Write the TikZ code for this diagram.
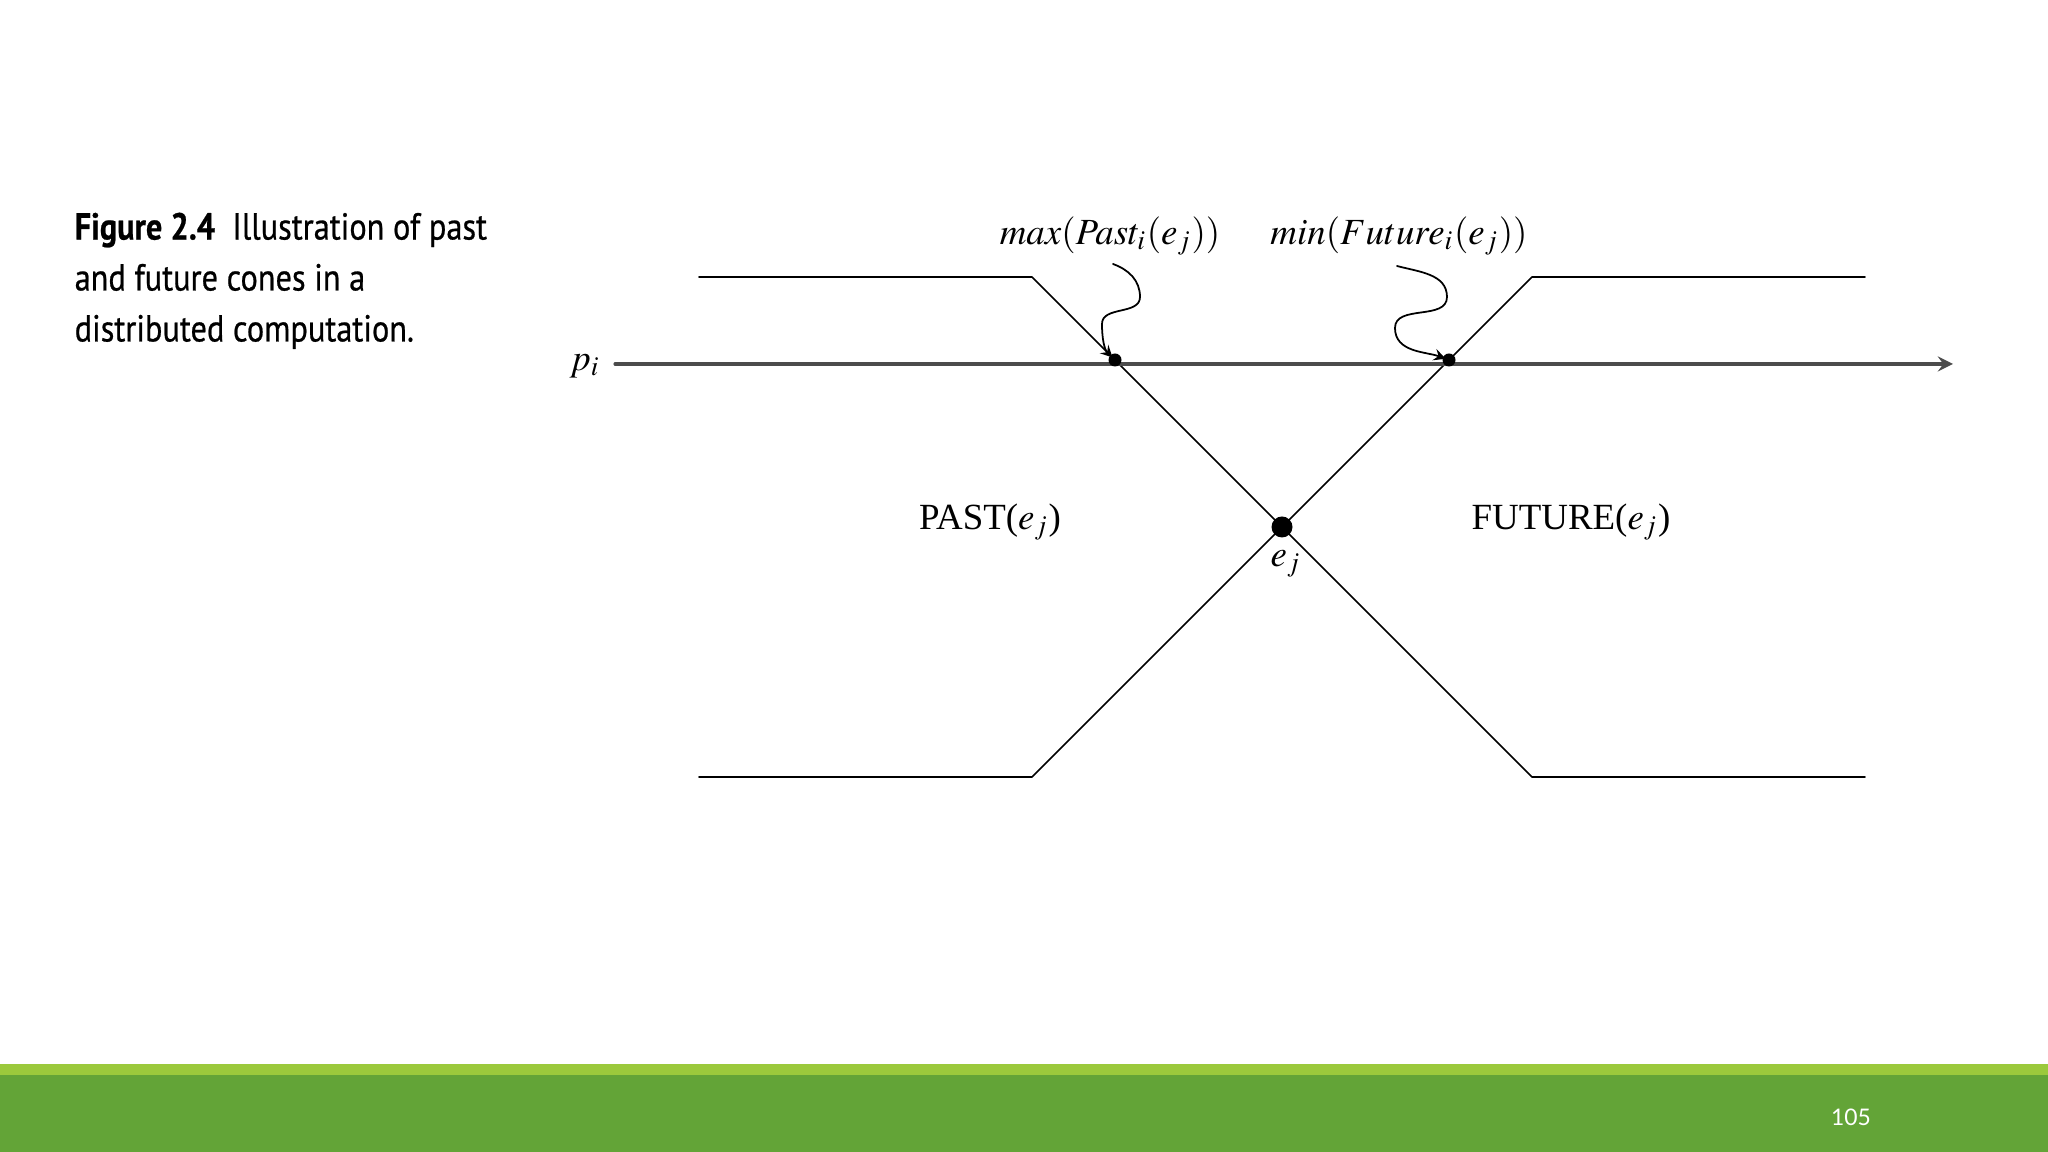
\documentclass[tikz,border=0pt]{standalone}
\usepackage{mathptmx}
\usepackage{fontspec}
\setmainfont{Liberation Serif}
\newfontfamily\capfont[FakeStretch=0.86,FakeBold=0.6]{PT Sans}
\newfontfamily\numfont{Lato}
\definecolor{barlight}{RGB}{155,201,60}
\definecolor{bardark}{RGB}{99,164,55}

\begin{document}
\begin{tikzpicture}[>=stealth, line join=round, line cap=round, font=\fontsize{10.5}{13}\selectfont]
	\def\ex{12.82} \def\ey{6.25} \def\cw{2.5} \def\ytop{8.75} \def\ybot{3.75}
	\def\xl{6.99} \def\xr{18.65} \def\yp{7.88}
	\useasboundingbox (0,0) rectangle (20.48,11.52);
	% footer bar
	\fill[bardark] (0,0) rectangle (20.48,0.77);
	\fill[barlight] (0,0.77) rectangle (20.48,0.88);
	\node[text=white, font=\numfont\fontsize{6.5}{8}\selectfont] (pagenum) at (18.51,0.35) {105};
	% caption
	\node[anchor=north west, inner sep=0pt, align=left, font=\capfont\fontsize{10.7}{14.5}\selectfont] (caption) at (0.74,9.40)
		{\textbf{Figure 2.4}\ \ Illustration of past\\and future cones in a\\distributed computation.};
	% cones
	\draw[line width=0.45pt] (\xl,\ytop) -- (\ex-\cw,\ytop) -- (\ex+\cw,\ybot) -- (\xr,\ybot);
	\draw[line width=0.45pt] (\xl,\ybot) -- (\ex-\cw,\ybot) -- (\ex+\cw,\ytop) -- (\xr,\ytop);
	% process line
	\draw[->, line width=0.9pt, black!70] (6.15,\yp) -- (19.53,\yp);
	\node (pi) at (5.85,7.86) {$p_i$};
	% events
	\coordinate (pastmax) at (11.15,7.92);
	\coordinate (futmin) at (14.49,7.92);
	\coordinate (ejdot) at (\ex,\ey);
	\fill (pastmax) circle (0.065);
	\fill (futmin) circle (0.065);
	\fill (ejdot) circle (0.105);
	\node (ej) at (12.86,5.88) {$e_j$};
	\node (past) at (9.90,6.30) {PAST($e_j$)};
	\node (future) at (15.71,6.30) {FUTURE($e_j$)};
	% labels and wiggly pointers
	\node (maxlbl) at (11.10,9.16) {$max(Past_i(e_j))$};
	\node (minlbl) at (13.99,9.16) {$min(Future_i(e_j))$};
	\coordinate (maxfoot) at (11.13,8.88);
	\coordinate (minfoot) at (13.97,8.86);
	\draw[->, line width=0.5pt, shorten >=1pt] (maxfoot) to[out=-20,in=90] (11.40,8.55) to[out=-90,in=90] (11.02,8.28) to[out=-90,in=135] (pastmax);
	\draw[->, line width=0.5pt, shorten >=1pt] (minfoot) to[out=-15,in=90] (14.47,8.55) to[out=-90,in=90] (13.95,8.24) to[out=-90,in=160] (futmin);
\end{tikzpicture}
\end{document}
